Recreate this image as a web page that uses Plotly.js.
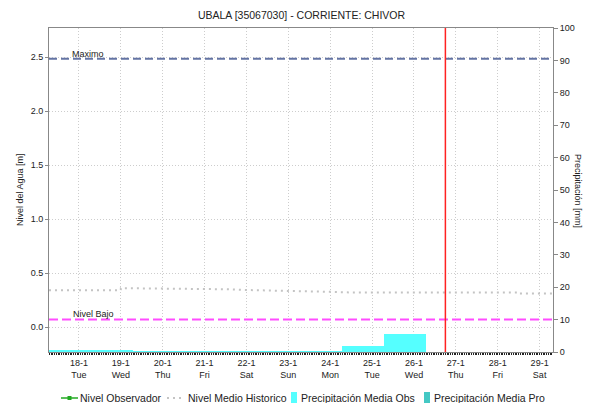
<!DOCTYPE html>
<html>
<head>
<meta charset="utf-8">
<script src="https://cdn.plot.ly/plotly-3.0.1.min.js"></script>
<style>html,body{margin:0;padding:0;background:#fff}#chart{width:590px;height:403px}</style>
</head>
<body>
<div id="chart"></div>
<script>
// ---- data ----
const dayTicks = ['2022-01-18','2022-01-19','2022-01-20','2022-01-21','2022-01-22','2022-01-23','2022-01-24','2022-01-25','2022-01-26','2022-01-27','2022-01-28','2022-01-29'];
const dayLabels = ['18-1','19-1','20-1','21-1','22-1','23-1','24-1','25-1','26-1','27-1','28-1','29-1'];
const weekdayLabels = ['Tue','Wed','Thu','Fri','Sat','Sun','Mon','Tue','Wed','Thu','Fri','Sat'];

// Nivel Medio Historico [m]
const histDates = ['2022-01-17 06:50','2022-01-18 23:59','2022-01-19 00:01','2022-01-20 12:00','2022-01-21 12:00','2022-01-22 00:00','2022-01-22 12:00','2022-01-23 00:00','2022-01-23 12:00','2022-01-24 00:00','2022-01-24 12:00','2022-01-26 12:00','2022-01-28 11:59','2022-01-28 12:01','2022-01-29 07:40'];
const histValues = [0.34,0.34,0.36,0.355,0.35,0.343,0.34,0.336,0.33,0.326,0.32,0.32,0.32,0.311,0.311];

// Nivel Observador [m] (no observations)
const obsDates = [];
const obsValues = [];

// Precipitación Media Obs [mm], hydrological days 07:00-07:00
const precipDays = ['2022-01-17 19:00','2022-01-18 19:00','2022-01-19 19:00','2022-01-20 19:00','2022-01-21 19:00','2022-01-22 19:00','2022-01-23 19:00','2022-01-24 19:00','2022-01-25 19:00'];
const precipValues = [0.7,0.7,0.4,0.4,0.4,0.4,0.4,2.0,5.5];

const nivelMaximo = 2.485;
const nivelBajo = 0.07;
const currentTime = '2022-01-26 18:00';
const xRange = ['2022-01-17 06:50', '2022-01-29 07:40'];

// ---- layout helpers (pixel -> paper) ----
const L = 49, R = 553, T = 28, B = 352;
const px = x => (x - L) / (R - L);
const py = y => (B - y) / (B - T);

const FONT = 'Liberation Sans, Arial, sans-serif';
const GRID = '#CDCDCD';

const traces = [
  {
    x: precipDays, y: precipValues, type: 'bar', yaxis: 'y2',
    width: 86400000, marker: {color: '#55FFFF', line: {width: 0}},
    name: 'Precipitación Media Obs', showlegend: false, hoverinfo: 'skip'
  },
  {
    x: histDates, y: histValues, type: 'scatter', mode: 'lines',
    line: {color: '#C4C4C4', width: 2, dash: '2px,4px'},
    name: 'Nivel Medio Historico', showlegend: false
  },
  {
    x: obsDates, y: obsValues, type: 'scatter', mode: 'lines+markers', xaxis: 'x2',
    line: {color: '#22AA22', width: 1.5}, marker: {symbol: 'square', size: 4},
    name: 'Nivel Observador', showlegend: false
  }
];

const tickText = dayLabels.map((d, i) => d + '<br>' + weekdayLabels[i]);

const shapes = [
  {type: 'line', xref: 'paper', yref: 'y', x0: 0, x1: 1, y0: nivelMaximo, y1: nivelMaximo,
   line: {color: '#6474A4', width: 2, dash: '8px,4px'}},
  {type: 'line', xref: 'paper', yref: 'y', x0: 0, x1: 1, y0: nivelBajo, y1: nivelBajo,
   line: {color: '#FF4CFF', width: 2, dash: '9px,4px'}},
  {type: 'line', xref: 'x', yref: 'paper', x0: currentTime, x1: currentTime, y0: 0, y1: 1,
   line: {color: '#FF2222', width: 1.5}},
  // manual legend symbols
  {type: 'line', xref: 'paper', yref: 'paper', x0: px(61), x1: px(78), y0: py(398), y1: py(398),
   line: {color: '#22AA22', width: 1.5}},
  {type: 'rect', xref: 'paper', yref: 'paper', x0: px(67.5), x1: px(71.5), y0: py(396), y1: py(400),
   line: {width: 0}, fillcolor: '#22AA22'},
  {type: 'line', xref: 'paper', yref: 'paper', x0: px(167), x1: px(183), y0: py(398), y1: py(398),
   line: {color: '#C4C4C4', width: 2, dash: '2px,4px'}},
  {type: 'rect', xref: 'paper', yref: 'paper', x0: px(291), x1: px(297), y0: py(392), y1: py(403),
   line: {width: 0}, fillcolor: '#55FFFF'},
  {type: 'rect', xref: 'paper', yref: 'paper', x0: px(424), x1: px(430), y0: py(392), y1: py(403),
   line: {width: 0}, fillcolor: '#44C8C4'}
];

const legendFont = {family: FONT, size: 10.5, color: '#222'};
const annotations = [
  {xref: 'paper', yref: 'y', x: px(70), y: nivelMaximo, xanchor: 'left', yanchor: 'bottom', yshift: -2,
   text: 'Maximo', showarrow: false, font: {family: FONT, size: 9, color: '#222'}},
  {xref: 'paper', yref: 'y', x: px(71), y: nivelBajo, xanchor: 'left', yanchor: 'bottom', yshift: -2,
   text: 'Nivel Bajo', showarrow: false, font: {family: FONT, size: 9, color: '#222'}},
  {xref: 'paper', yref: 'paper', x: px(20), y: py(190), xanchor: 'center', yanchor: 'middle',
   text: 'Nivel del Agua [m]', textangle: -90,
   showarrow: false, font: {family: FONT, size: 9, color: '#222'}},
  {xref: 'paper', yref: 'paper', x: px(578), y: py(191), xanchor: 'center', yanchor: 'middle',
   text: 'Precipitación [mm]', textangle: 90,
   showarrow: false, font: {family: FONT, size: 9, color: '#222'}},
  {xref: 'paper', yref: 'paper', x: px(78), y: py(398), xanchor: 'left', yanchor: 'middle',
   text: 'Nivel Observador', showarrow: false, font: legendFont},
  {xref: 'paper', yref: 'paper', x: px(186), y: py(398), xanchor: 'left', yanchor: 'middle',
   text: 'Nivel Medio Historico', showarrow: false, font: legendFont},
  {xref: 'paper', yref: 'paper', x: px(299), y: py(398), xanchor: 'left', yanchor: 'middle',
   text: 'Precipitación Media Obs', showarrow: false, font: legendFont},
  {xref: 'paper', yref: 'paper', x: px(432), y: py(398), xanchor: 'left', yanchor: 'middle',
   text: 'Precipitación Media Pro', showarrow: false, font: legendFont}
];

const layout = {
  width: 590, height: 403,
  margin: {l: L, r: 590 - R, t: T, b: 403 - B, pad: 0},
  paper_bgcolor: '#fff', plot_bgcolor: '#fff',
  font: {family: FONT, size: 9, color: '#222'},
  title: {text: 'UBALA [35067030] - CORRIENTE: CHIVOR', x: 0.511, xanchor: 'center', y: 0.962, yanchor: 'middle',
          font: {family: FONT, size: 10.5, color: '#222'}},
  showlegend: false,
  bargap: 0,
  xaxis: {
    type: 'date',
    range: xRange,
    tickmode: 'array', tickvals: dayTicks, ticktext: tickText,
    ticks: 'outside', ticklen: 2, tickcolor: '#222', tickwidth: 1,
    showgrid: true, gridcolor: GRID, griddash: '1px,2px', gridwidth: 1,
    showline: true, linecolor: '#888', linewidth: 1, mirror: true,
    tickfont: {family: FONT, size: 9, color: '#222'},
    zeroline: false, fixedrange: true
  },
  xaxis2: {
    type: 'date', overlaying: 'x', anchor: 'y', side: 'bottom',
    range: xRange,
    tickmode: 'linear', tick0: '2022-01-17', dtick: 3600000,
    ticks: 'outside', ticklen: 2, tickcolor: '#222', tickwidth: 1,
    showticklabels: false, showgrid: false, showline: false, zeroline: false
  },
  yaxis: {
    range: [-0.231, 2.769],
    tick0: 0, dtick: 0.5, tickformat: '.1f',
    ticks: 'outside', ticklen: 3, tickcolor: '#888',
    showgrid: true, gridcolor: GRID, griddash: '1px,2px', gridwidth: 1,
    showline: true, linecolor: '#888', linewidth: 1,
    zeroline: false, tickfont: {family: FONT, size: 9, color: '#222'}
  },
  yaxis2: {
    overlaying: 'y', side: 'right',
    range: [0, 100], tick0: 0, dtick: 10,
    ticks: 'outside', ticklen: 4, tickcolor: '#888',
    showgrid: false, showline: true, linecolor: '#888', linewidth: 1,
    zeroline: false, tickfont: {family: FONT, size: 9, color: '#222'}
  },
  shapes: shapes,
  annotations: annotations
};

Plotly.newPlot('chart', traces, layout, {staticPlot: true, displayModeBar: false});
</script>
</body>
</html>
